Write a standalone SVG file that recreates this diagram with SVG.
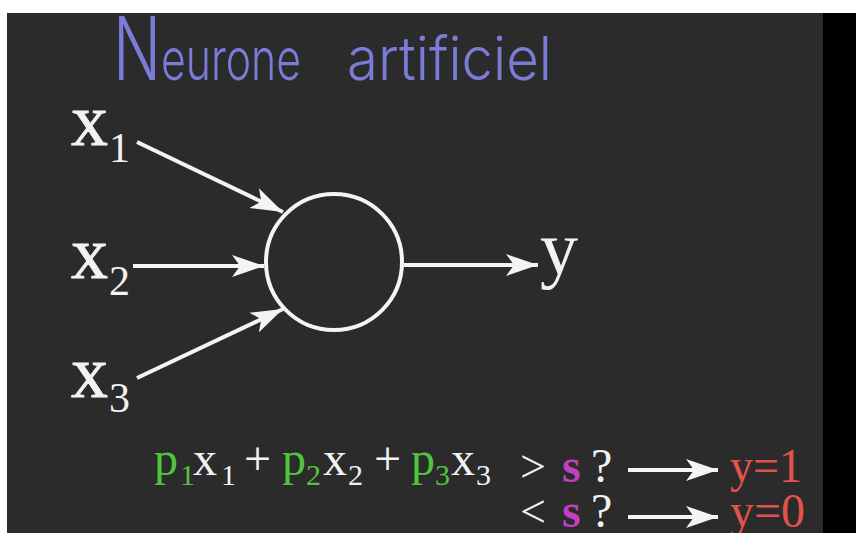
<svg xmlns="http://www.w3.org/2000/svg" width="856" height="533" viewBox="0 0 856 533">
<style>
.serif{font-family:"Liberation Serif","Times New Roman",serif;}
.w{fill:#f2f2f2;}
.g{fill:#4fc53c;}
.m{fill:#c23fc0;}
.r{fill:#e2534c;}
.lbl{stroke:#f2f2f2;stroke-width:0.8;}
.conn{stroke:#f4f4f4;stroke-width:4;fill:none;}
</style>
<defs>
<marker id="ah" markerUnits="userSpaceOnUse" markerWidth="34" markerHeight="24" refX="32" refY="12" orient="auto">
<path d="M0,1 L32,12 L0,23 L8,12 z" fill="#f4f4f4"/>
</marker>
</defs>
<rect x="0" y="0" width="856" height="533" fill="#ffffff"/>
<rect x="7" y="13" width="817" height="520" fill="#2b2b2b"/>
<rect x="823" y="13" width="33" height="520" fill="#000000"/>
<g id="title" font-family="Inter, Lato, 'DejaVu Sans', sans-serif" font-weight="300" fill="#7b7bd8">
<text x="113" y="80"><tspan font-size="88" textLength="48" lengthAdjust="spacingAndGlyphs">N</tspan><tspan font-size="58" textLength="140" lengthAdjust="spacingAndGlyphs">eurone</tspan><tspan x="347" font-size="60" textLength="205" lengthAdjust="spacingAndGlyphs">artificiel</tspan></text>
</g>
<g id="connectors">
<line class="conn" x1="137" y1="142" x2="283" y2="212" marker-end="url(#ah)"/>
<line class="conn" x1="133" y1="266" x2="264" y2="266" marker-end="url(#ah)"/>
<line class="conn" x1="137" y1="378" x2="283" y2="309" marker-end="url(#ah)"/>
<line class="conn" x1="404" y1="265" x2="538" y2="265" marker-end="url(#ah)"/>
<line class="conn" x1="628" y1="470" x2="718" y2="470" marker-end="url(#ah)"/>
<line class="conn" x1="628" y1="517" x2="718" y2="517" marker-end="url(#ah)"/>
</g>
<g id="x1"><text class="serif w lbl" x="71" y="145" font-size="74">x</text><text class="serif w" x="109" y="162" font-size="42">1</text></g>
<g id="x2"><text class="serif w lbl" x="71" y="278" font-size="74">x</text><text class="serif w" x="109" y="295" font-size="42">2</text></g>
<g id="x3"><text class="serif w lbl" x="71" y="397" font-size="74">x</text><text class="serif w" x="109" y="412" font-size="42">3</text></g>
<g id="neuron"><circle cx="334" cy="262" r="68" fill="none" stroke="#f4f4f4" stroke-width="4"/></g>
<g id="y"><text class="serif w" x="540" y="274" font-size="76">y</text></g>
<g id="formula" class="serif">
<text class="g" x="154" y="475" font-size="48">p</text>
<text class="g" x="180" y="485" font-size="30">1</text>
<text class="w" x="193" y="475" font-size="48">x</text>
<text class="w" x="221" y="485" font-size="30">1</text>
<text class="w" x="244" y="475" font-size="48">+</text>
<text class="g" x="282" y="475" font-size="48">p</text>
<text class="g" x="306" y="485" font-size="30">2</text>
<text class="w" x="323" y="475" font-size="48">x</text>
<text class="w" x="348" y="485" font-size="30">2</text>
<text class="w" x="374" y="475" font-size="48">+</text>
<text class="g" x="411" y="475" font-size="48">p</text>
<text class="g" x="435" y="485" font-size="30">3</text>
<text class="w" x="451" y="475" font-size="48">x</text>
<text class="w" x="476" y="485" font-size="30">3</text>
</g>
<g id="cond1" class="serif">
<text class="w" x="520" y="482" font-size="46">&gt;</text>
<text class="m" x="562" y="482" font-size="48" font-weight="bold">s</text>
<text class="w" x="591" y="482" font-size="48">?</text>
<text class="r" x="730" y="482" font-size="48" textLength="72" lengthAdjust="spacingAndGlyphs">y=1</text>
</g>
<g id="cond2" class="serif">
<text class="w" x="520" y="527" font-size="46">&lt;</text>
<text class="m" x="562" y="527" font-size="48" font-weight="bold">s</text>
<text class="w" x="591" y="527" font-size="48">?</text>
<text class="r" x="730" y="527" font-size="48" textLength="75" lengthAdjust="spacingAndGlyphs">y=0</text>
</g>
</svg>
